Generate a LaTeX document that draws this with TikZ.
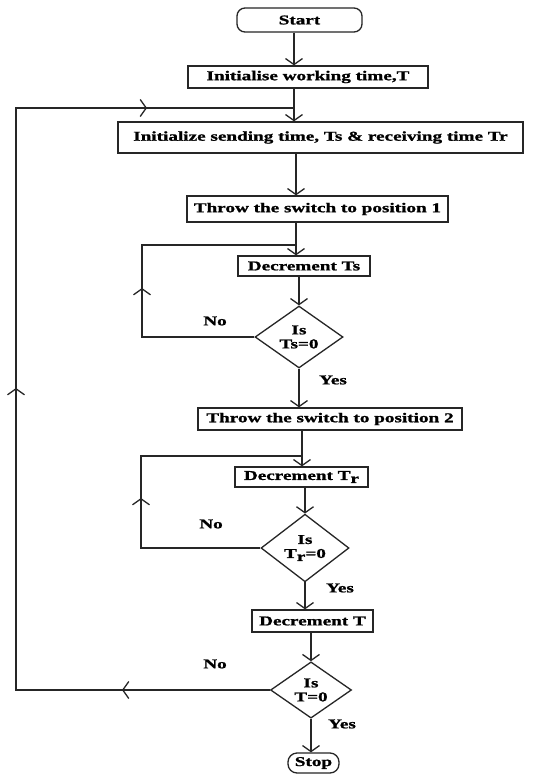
\documentclass[tikz,border=0pt]{standalone}
\usepackage{fontspec}
\usetikzlibrary{shapes.geometric,arrows.meta}
\newfontfamily\ff[FakeStretch=1.42,FakeBold=1.2]{Liberation Serif}
\newcommand{\tr}{T\raisebox{-3pt}{r}}
\begin{document}
\begin{tikzpicture}[x=1pt,y=-1pt,
  txt/.style={font=\ff\bfseries\fontsize{13.5}{15}\selectfont},
  box/.style={txt, draw=black!85, line width=1.3pt, inner sep=0pt},
  dec/.style={txt, draw=black!85, line width=1.3pt, diamond, inner sep=0pt, align=center},
  ln/.style={draw=black!85, line width=1.3pt},
  arr/.style={ln, -{Straight Barb[length=6pt,width=17pt]}}]
\useasboundingbox[fill=white] (0,0) rectangle (543,776);

% nodes
\node[box, rounded corners=8pt, minimum width=125pt, minimum height=24pt] (start) at (299.5,20) {Start};
\node[box, minimum width=240pt, minimum height=22pt] (init) at (308,77) {Initialise working time,T};
\node[box, minimum width=405pt, minimum height=31pt] (init2) at (320.5,137.5) {Initialize sending time, Ts \& receiving time Tr};
\node[box, minimum width=261pt, minimum height=26pt] (throw1) at (317.5,209) {Throw the switch to position 1};
\node[box, minimum width=132pt, minimum height=20pt] (dects) at (304,266) {Decrement Ts};
\node[dec, minimum width=88pt, minimum height=58pt] (d1) at (299,337) {Is\\[-1pt]Ts=0};
\node[box, minimum width=264pt, minimum height=22pt] (throw2) at (330,419) {Throw the switch to position 2};
\node[box, minimum width=133pt, minimum height=20pt] (dectr) at (301.5,477) {Decrement \tr};
\node[dec, minimum width=88pt, minimum height=60pt] (d2) at (305,548) {Is\\[-1pt]\tr=0};
\node[box, minimum width=121pt, minimum height=22pt] (dect) at (312.5,621) {Decrement T};
\node[dec, minimum width=81pt, minimum height=55pt] (d3) at (311,690) {Is\\[-1pt]T=0};
\node[box, rounded corners=9pt, minimum width=51pt, minimum height=20pt] (stop) at (313.5,763) {Stop};

% labels
\node[txt] (no1) at (215,321) {No};
\node[txt] (yes1) at (333,380) {Yes};
\node[txt] (no2) at (211,524) {No};
\node[txt] (yes2) at (340,588) {Yes};
\node[txt] (no3) at (215,664) {No};
\node[txt] (yes3) at (342,724) {Yes};

% coordinates
\coordinate (j1) at (294,108);
\coordinate (fbL) at (16,108);
\coordinate (fbB) at (16,690);
\coordinate (mT) at (147,108);
\coordinate (mL) at (16,388);
\coordinate (mB) at (122,690);
\coordinate (j2) at (296,245);
\coordinate (l1b) at (142,337);
\coordinate (l1t) at (142,245);
\coordinate (m1) at (142,288);
\coordinate (j3) at (302,456);
\coordinate (l2b) at (141,548);
\coordinate (l2t) at (141,456);
\coordinate (m2) at (141,498);

% main flow
\draw[arr] (start.south -| j1) -- (init.north -| j1);
\draw[arr] (init.south -| j1) -- (init2.north -| j1);
\draw[arr] (init2.south -| j2) -- (throw1.north -| j2);
\draw[arr] (throw1.south -| j2) -- (dects.north -| j2);
\draw[arr] (dects.south -| d1.north) -- (d1.north);
\draw[arr] (d1.south) -- (d1.south |- throw2.north);
\draw[arr] (throw2.south -| j3) -- (dectr.north -| j3);
\draw[arr] (dectr.south -| d2.north) -- (d2.north);
\draw[arr] (d2.south) -- (d2.south |- dect.north);
\draw[arr] (dect.south -| d3.north) -- (d3.north);
\draw[arr] (d3.south) -- (d3.south |- stop.north);

% loop 1
\draw[ln] (d1.west) -- (l1b) -- (l1t) -- (j2);
\draw[arr] (l1b) -- (m1);
% loop 2
\draw[ln] (d2.west) -- (l2b) -- (l2t) -- (j3);
\draw[arr] (l2b) -- (m2);
% outer loop
\draw[ln] (d3.west) -- (fbB) -- (fbL) -- (j1);
\draw[arr] (d3.west) -- (mB);
\draw[arr] (fbB) -- (mL);
\draw[arr] (fbL) -- (mT);
\end{tikzpicture}
\end{document}
